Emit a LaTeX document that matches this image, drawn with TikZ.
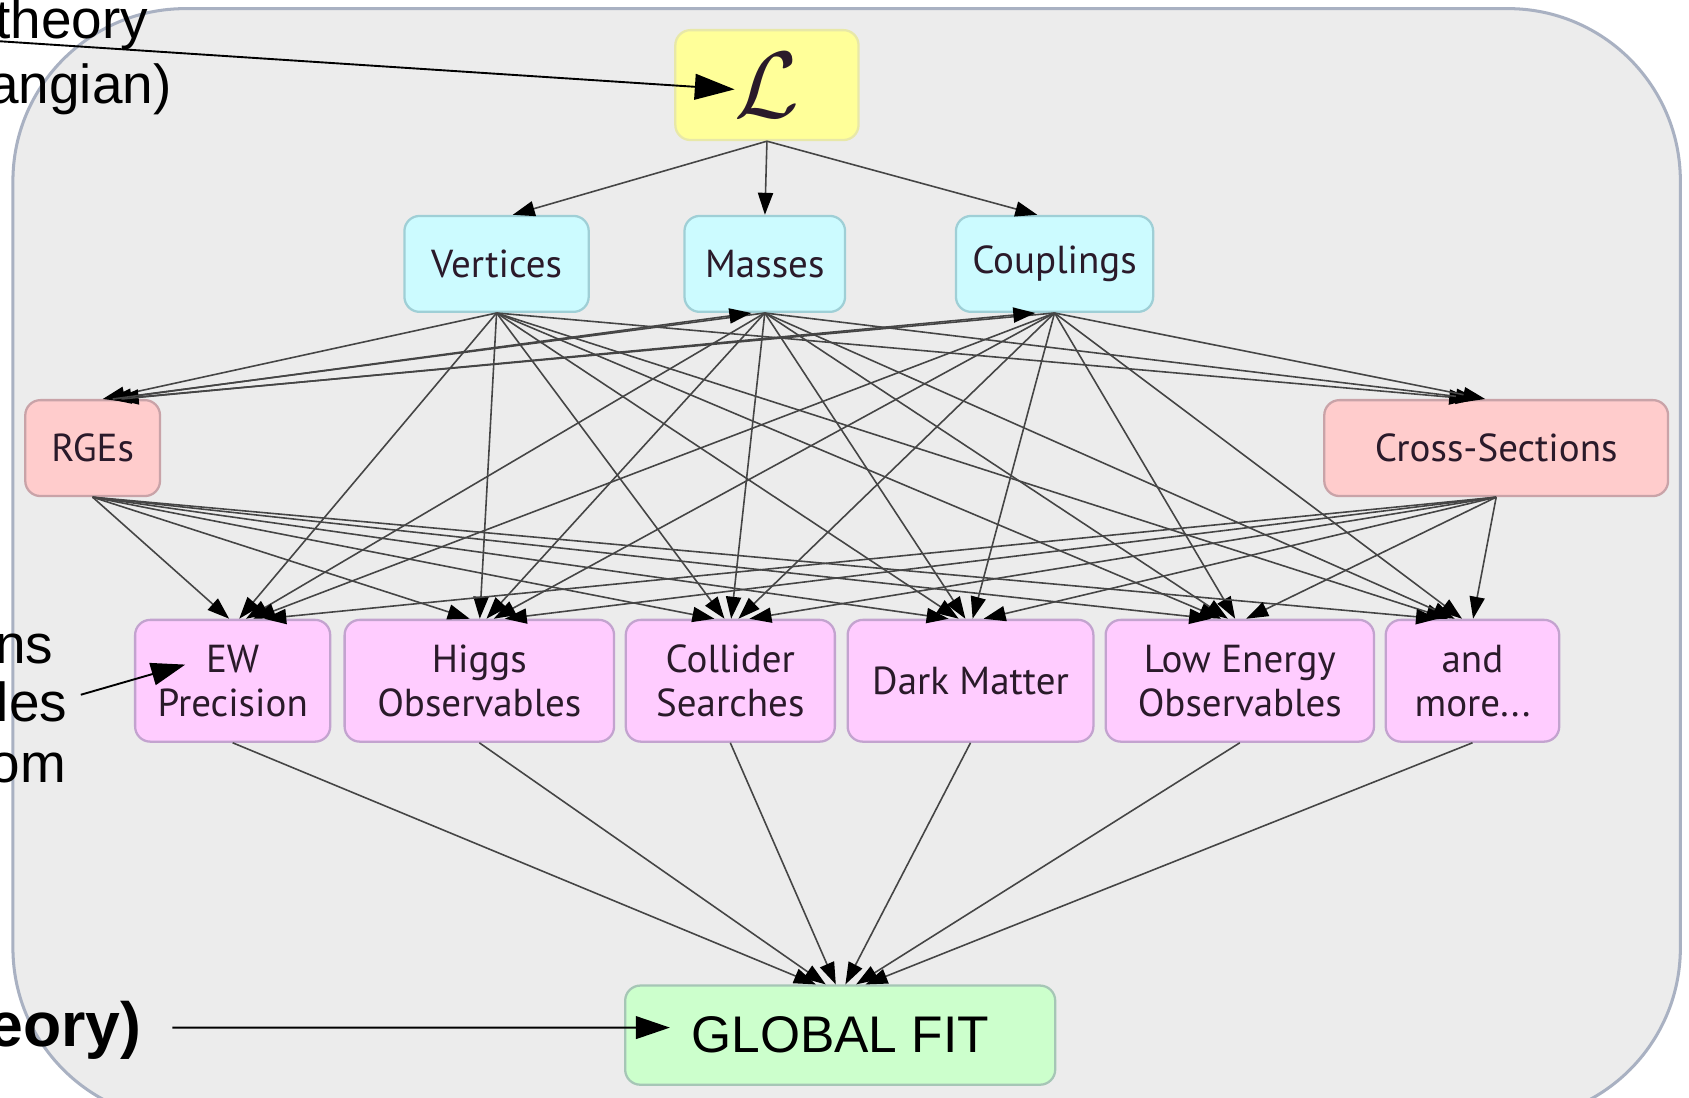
\documentclass[tikz,border=0pt]{standalone}
\usepackage{fontspec}
\setmainfont{Liberation Sans}
\newfontfamily\boxfont{PT Sans}
\usetikzlibrary{arrows.meta, calc}
\definecolor{framefill}{HTML}{ECECEC}
\definecolor{frameline}{HTML}{A9B1C2}
\definecolor{lagfill}{HTML}{FFFF99}
\definecolor{lagline}{HTML}{E8E8A8}
\definecolor{parfill}{HTML}{CCFBFF}
\definecolor{parline}{HTML}{9FCFD6}
\definecolor{calcfill}{HTML}{FFCCCC}
\definecolor{calcline}{HTML}{C9A3A8}
\definecolor{obsfill}{HTML}{FFCCFF}
\definecolor{obsline}{HTML}{C3A3CF}
\definecolor{fitfill}{HTML}{CCFFCC}
\definecolor{fitline}{HTML}{A6C6B6}
\definecolor{wirecol}{HTML}{454545}
\definecolor{boxtext}{HTML}{2A1A2A}

\begin{document}
\begin{tikzpicture}[x=0.01cm, y=-0.01cm,
  block/.style={rounded corners=4pt, line width=0.6pt, inner sep=0pt, align=center,
    text=boxtext, font=\boxfont\fontsize{10.3}{11.7}\selectfont},
  lagbox/.style={block, fill=lagfill, draw=lagline, minimum width=1.70cm, minimum height=1.02cm},
  parbox/.style={block, fill=parfill, draw=parline, minimum height=0.89cm},
  calcbox/.style={block, fill=calcfill, draw=calcline, minimum height=0.89cm},
  obsbox/.style={block, fill=obsfill, draw=obsline, minimum height=1.13cm},
  fitbox/.style={block, fill=fitfill, draw=fitline, minimum width=3.99cm, minimum height=0.92cm,
    font=\fontsize{13.6}{16}\selectfont, text=black},
  wire/.style={draw=wirecol, line width=0.42pt, -{Triangle[length=5.8pt, width=4pt, color=black]}},
  note/.style={draw=black, line width=0.5pt, -{Triangle[length=9pt, width=6pt]}},
  annot/.style={inner sep=0pt, font=\fontsize{14.5}{17}\selectfont}
]
  \useasboundingbox (0,0) rectangle (1568,1019);
  \fill[white] (0,0) rectangle (1568,1019);
  \draw[frameline, fill=framefill, line width=0.8pt, rounded corners=1.6cm] (12,8) rectangle (1560,1040);

  % layer 1
  \node[lagbox] (lag) at (712,79) {\fontsize{24}{24}\selectfont$\mathcal{L}$};
  % layer 2
  \node[parbox, minimum width=1.71cm] (vert) at (461,245) {Vertices};
  \node[parbox, minimum width=1.49cm] (mass) at (710,245) {Masses};
  \node[parbox, minimum width=1.83cm] (coup) at (979,245) {Couplings};
  % layer 3
  \node[calcbox, minimum width=1.25cm] (rge) at (86,416) {RGEs};
  \node[calcbox, minimum width=3.19cm] (xsec) at (1389,416) {Cross-Sections};
  % layer 4
  \node[obsbox, minimum width=1.81cm] (ew) at (216,632) {EW\\Precision};
  \node[obsbox, minimum width=2.50cm] (higgs) at (445,632) {Higgs\\Observables};
  \node[obsbox, minimum width=1.94cm] (coll) at (678,632) {Collider\\Searches};
  \node[obsbox, minimum width=2.28cm] (dm) at (901,632) {Dark Matter};
  \node[obsbox, minimum width=2.49cm] (lowe) at (1151,632) {Low Energy\\Observables};
  \node[obsbox, minimum width=1.61cm] (more) at (1367,632) {and\\more...};
  % layer 5
  \node[fitbox] (fit) at (780,961) {GLOBAL FIT};

  % L -> parameters
  \foreach \t in {vert,mass,coup}
    \draw[wire] let \p1=(lag.south), \p2=(\t.north) in (\p1) -- ({\x2+0.06*(\x1-\x2)},\y2);
  % parameters -> calculations and observables
  \foreach \s in {vert,mass,coup}
    \foreach \t in {rge,xsec,ew,higgs,coll,dm,lowe,more}
      \draw[wire] let \p1=(\s.south), \p2=(\t.north) in (\p1) -- ({\x2+0.025*(\x1-\x2)},\y2);
  % running back up
  \foreach \t in {mass,coup}
    \draw[wire] let \p1=(rge.north), \p2=(\t.south) in ({\x1+0.03*(\x2-\x1)},\y1) -- ({\x2+0.02*(\x1-\x2)},\y2);
  % calculations -> observables
  \foreach \s in {rge,xsec}
    \foreach \t in {ew,higgs,coll,dm,lowe,more}
      \draw[wire] let \p1=(\s.south), \p2=(\t.north) in (\p1) -- ({\x2+0.025*(\x1-\x2)},\y2);
  % observables -> fit
  \foreach \s in {ew,higgs,coll,dm,lowe,more}
    \draw[wire] let \p1=(\s.south), \p2=(fit.north) in (\p1) -- ({\x2+0.04*(\x1-\x2)},\y2);

  % side notes
  \node[annot, anchor=base east] (theo1) at (138,36) {theory};
  \node[annot, anchor=base east] (theo2) at (160,96) {angian)};
  \node[annot, anchor=base east] (obs1) at (50,616) {ns};
  \node[annot, anchor=base east] (obs2) at (63,670) {les};
  \node[annot, anchor=base east] (obs3) at (62,726) {om};
  \node[annot, anchor=base east, font=\fontsize{16.5}{19}\selectfont\bfseries] (fit1) at (132,972) {eory)};
  \coordinate (lagtail) at (-5,38);
  \coordinate (obstail) at (75,645);
  \coordinate (fittail) at (160,954);
  \draw[note, -{Triangle[length=10.5pt, width=6.8pt]}] (lagtail) -- ([xshift=-0.30cm, yshift=-0.04cm]lag.center);
  \draw[note] (obstail) -- ([xshift=-0.44cm, yshift=0.15cm]ew.center);
  \draw[note] (fittail) -- ([xshift=-1.58cm, yshift=0.07cm]fit.center);
\end{tikzpicture}
\end{document}
